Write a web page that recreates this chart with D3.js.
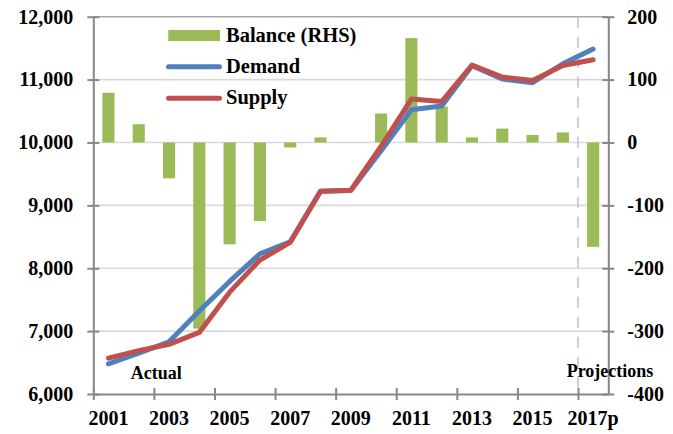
<!DOCTYPE html>
<html>
<head>
<meta charset="utf-8">
<script src="https://cdn.jsdelivr.net/npm/d3@7"></script>
<style>
  html, body { margin: 0; padding: 0; background: #fff; }
  svg { display: block; }
  text { font-family: "Liberation Serif", "Times New Roman", serif; font-weight: bold; fill: #000; }
</style>
</head>
<body>
<svg id="chart" width="673" height="434"></svg>
<script>
// ---- data ----
const categories = ["2001","2002","2003","2004","2005","2006","2007","2008","2009","2010","2011","2012","2013","2014","2015","2016","2017p"];
const tickLabels = ["2001","2003","2005","2007","2009","2011","2013","2015","2017p"];
const demand  = [6480, 6650, 6830, 7320, 7790, 8230, 8420, 9225, 9235, 9870, 10520, 10580, 11220, 11010, 10950, 11250, 11485];
const supply  = [6570, 6690, 6790, 6980, 7620, 8130, 8410, 9225, 9240, 9940, 10690, 10650, 11230, 11040, 10985, 11225, 11315];
const balance = [79, 29, -57, -296, -162, -125, -8, 8, 0, 46, 166, 57, 8, 22, 12, 16, -166];
const leftTicks  = [6000, 7000, 8000, 9000, 10000, 11000, 12000];
const rightTicks = [-400, -300, -200, -100, 0, 100, 200];

// ---- layout ----
const L = 93.3, R = 608.3, T = 16.7, B = 394;
const svg = d3.select("#chart");

const x = d3.scaleBand().domain(categories).range([L, R]).paddingInner(0).paddingOuter(0);
const xi = d3.scaleLinear().domain([0, categories.length]).range([L, R]);
const yL = d3.scaleLinear().domain([6000, 12000]).range([B, T]);
const yR = d3.scaleLinear().domain([-400, 200]).range([B, T]);
const bw = x.bandwidth();

// gridlines
svg.append("g").selectAll("line")
  .data(leftTicks.filter(v => v > 6000))
  .join("line")
  .attr("x1", L).attr("x2", R)
  .attr("y1", d => yL(d)).attr("y2", d => yL(d))
  .attr("stroke", d => d === 12000 ? "#a6a6a6" : "#d9d9d9")
  .attr("stroke-width", 1.6);

// bars
svg.append("g").selectAll("rect")
  .data(balance.map((v, i) => ({c: categories[i], v})))
  .join("rect")
  .attr("x", d => x(d.c) + bw * 0.3)
  .attr("width", bw * 0.4)
  .attr("y", d => Math.min(yR(d.v), yR(0)))
  .attr("height", d => Math.abs(yR(d.v) - yR(0)))
  .attr("fill", "#9bbb59");

// projections divider
svg.append("line")
  .attr("x1", x("2017p")).attr("x2", x("2017p"))
  .attr("y1", T).attr("y2", B)
  .attr("stroke", "#c4c4c4").attr("stroke-width", 1.6)
  .attr("stroke-dasharray", "11,9");

// lines
const lineGen = d3.line().x((d, i) => x(categories[i]) + bw / 2).y(d => yL(d));
svg.append("path").datum(demand).attr("d", lineGen)
  .attr("fill", "none").attr("stroke", "#4f81bd").attr("stroke-width", 5)
  .attr("stroke-linejoin", "round").attr("stroke-linecap", "round");
svg.append("path").datum(supply).attr("d", lineGen)
  .attr("fill", "none").attr("stroke", "#c0504d").attr("stroke-width", 5)
  .attr("stroke-linejoin", "round").attr("stroke-linecap", "round");

// axes
const axisColor = "#878787";
const gl = svg.append("g").attr("transform", `translate(${L},0)`)
  .call(d3.axisLeft(yL).tickValues(leftTicks).tickFormat(d3.format(",")).tickSizeInner(6).tickSizeOuter(0).tickPadding(14));
gl.selectAll(".tick line").attr("x1", -6).attr("x2", 6);

const gr = svg.append("g").attr("transform", `translate(${R},0)`)
  .call(d3.axisRight(yR).tickValues(rightTicks).tickFormat(d => String(d)).tickSizeInner(6).tickSizeOuter(0).tickPadding(13));
gr.selectAll(".tick line").attr("x1", -6).attr("x2", 6);

const gbTicks = svg.append("g").attr("transform", `translate(0,${B})`)
  .call(d3.axisBottom(xi).tickValues(d3.range(0, categories.length, 2)).tickFormat("").tickSizeInner(6).tickSizeOuter(0));
gbTicks.selectAll(".tick line").attr("y1", -6).attr("y2", 6);

const gb = svg.append("g").attr("transform", `translate(0,${B})`)
  .call(d3.axisBottom(x).tickValues(tickLabels).tickSize(0).tickPadding(17));
gb.select(".domain").remove();

[gl, gr, gbTicks].forEach(g => {
  g.select(".domain").attr("stroke", axisColor).attr("stroke-width", 2);
  g.selectAll(".tick line").attr("stroke", axisColor).attr("stroke-width", 2);
});
svg.selectAll(".tick text")
  .attr("font-family", "'Liberation Serif', 'Times New Roman', serif")
  .attr("font-weight", "bold").attr("font-size", 20).attr("fill", "#000");

// legend
const lg = svg.append("g");
lg.append("rect").attr("x", 168.3).attr("y", 30).attr("width", 51.7).attr("height", 11).attr("fill", "#9bbb59");
lg.append("line").attr("x1", 168.5).attr("x2", 219.5).attr("y1", 66.7).attr("y2", 66.7)
  .attr("stroke", "#4f81bd").attr("stroke-width", 5).attr("stroke-linecap", "round");
lg.append("line").attr("x1", 168.5).attr("x2", 219.5).attr("y1", 98.3).attr("y2", 98.3)
  .attr("stroke", "#c0504d").attr("stroke-width", 5).attr("stroke-linecap", "round");
lg.append("text").attr("x", 226).attr("y", 41.7).attr("font-size", 20.5).text("Balance (RHS)");
lg.append("text").attr("x", 226).attr("y", 73.3).attr("font-size", 20.5).text("Demand");
lg.append("text").attr("x", 226).attr("y", 104.3).attr("font-size", 20.5).text("Supply");

// annotations
svg.append("text").attr("x", 130.7).attr("y", 379).attr("font-size", 18).text("Actual");
svg.append("text").attr("x", 566.7).attr("y", 376.7).attr("font-size", 18).text("Projections");
</script>
</body>
</html>
